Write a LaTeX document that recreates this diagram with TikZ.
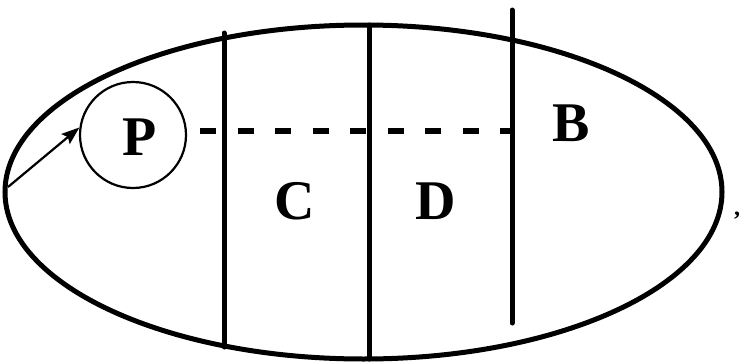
\documentclass[tikz,border=0pt]{standalone}
\usepackage{fontspec}
\setmainfont{Liberation Serif}
\usetikzlibrary{shapes.geometric,arrows.meta}
\begin{document}
\begin{tikzpicture}[x=1pt,y=-1pt,
  bigline/.style={line width=5pt,line cap=round},
  lbl/.style={font=\fontsize{56}{56}\selectfont\bfseries,inner sep=0pt},
  thin/.style={line width=2.2pt}]
\useasboundingbox (0,0) rectangle (745,364);
\node[ellipse,draw,line width=5pt,minimum width=717pt,minimum height=334pt,inner sep=0pt] (egg) at (363.5,192) {};
\node[circle,draw,thin,minimum size=106pt,inner sep=0pt] (P) at (133,135) {};
\node[lbl] at (140,137) {P};
\coordinate (a1) at (224,33); \coordinate (a2) at (224,347);
\coordinate (b1) at (369,25); \coordinate (b2) at (369,359);
\coordinate (c1) at (512,10); \coordinate (c2) at (512,323);
\draw[bigline] (a1) -- (a2);
\draw[bigline] (b1) -- (b2);
\draw[bigline] (c1) -- (c2);
\coordinate (d1) at (200,131); \coordinate (d2) at (512,131);
\draw[line width=5.5pt,dash pattern=on 16pt off 21.5pt] (d1) -- (d2);
\coordinate (s) at (8,187);
\draw[thin,-{Stealth[length=18pt,width=13pt,inset=3pt]}] (s) -- (P.172);
\node[lbl] (C) at (295,201) {C};
\node[lbl] (D) at (436,201) {D};
\node[lbl] (B) at (571,123) {B};
\node[font=\fontsize{24}{24}\selectfont\bfseries,inner sep=0pt] (comma) at (737,216) {,};
\end{tikzpicture}
\end{document}
